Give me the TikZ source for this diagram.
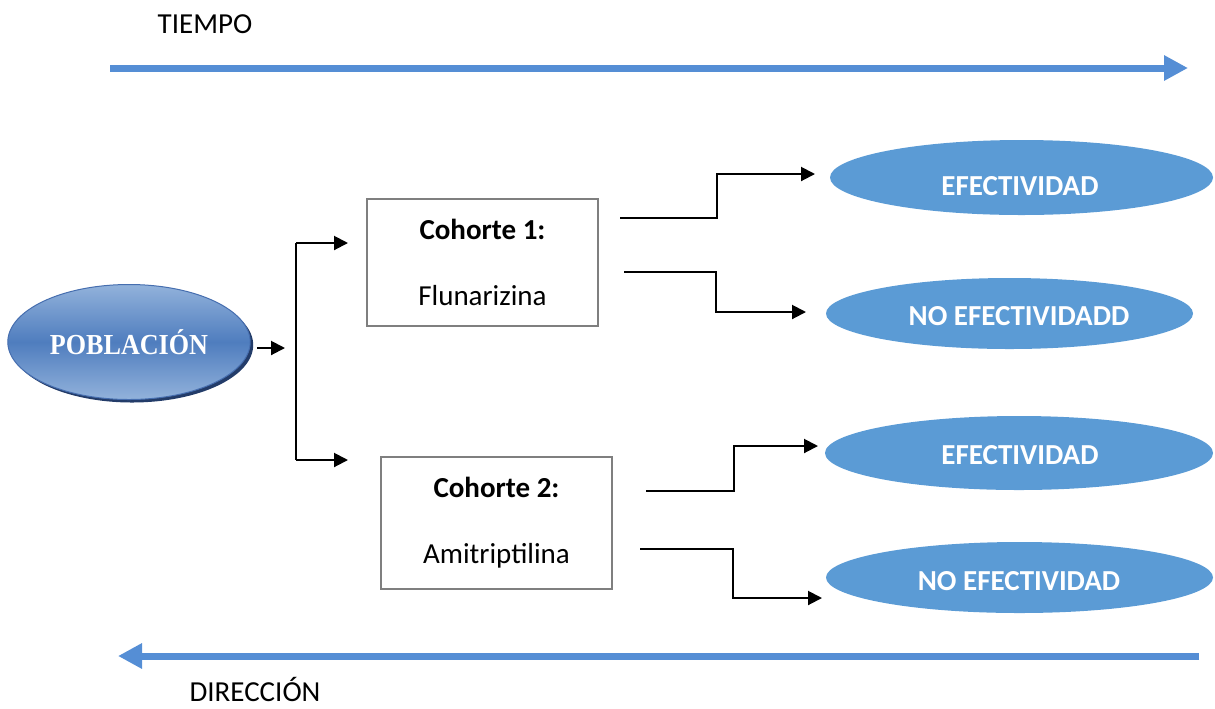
\documentclass[tikz,border=0pt]{standalone}
\usepackage{graphicx}
\usepackage{fontspec}
\setmainfont{Carlito}
\newfontfamily\pobfont{Liberation Serif}
\usetikzlibrary{arrows.meta,shapes.geometric,shadows}
\definecolor{tiempo}{RGB}{85,142,213}
\definecolor{elip}{RGB}{91,155,213}
\definecolor{caja}{RGB}{127,127,127}
\definecolor{pobclaro}{RGB}{146,178,219}
\definecolor{pobosc}{RGB}{79,125,190}
\definecolor{pobborde}{RGB}{70,110,175}
\definecolor{pobsombra}{RGB}{35,60,105}

\tikzset{
  conn/.style={-{Triangle[length=7pt,width=7pt]},line width=1pt},
  eje/.style={-{Triangle[length=12pt,width=12pt]},line width=3.5pt,color=tiempo},
  cohorte/.style={draw=caja,line width=1pt,minimum width=115.5pt,align=center,
    font=\fontsize{14.5}{17.4}\selectfont},
  resultado/.style={ellipse,fill=elip,inner sep=0pt},
  etiq/.style={text=white,font=\fontsize{14.5}{17.4}\selectfont\bfseries},
  rotulo/.style={font=\fontsize{14.5}{17.4}\selectfont},
}

\begin{document}
\begin{tikzpicture}[line cap=butt,line join=miter,x=0.5pt,y=-0.5pt]
\useasboundingbox (0,0) rectangle (1215,708);

% ejes de tiempo y direccion
\node[rotulo] (tiempo) at (205,24) {TIEMPO};
\coordinate (t0) at (110,68);
\coordinate (t1) at (1188,68);
\draw[eje] (t0) -- (t1);
\coordinate (d0) at (1199,656);
\coordinate (d1) at (118,656);
\draw[eje] (d0) -- (d1);
\node[rotulo] (direccion) at (255,689) {DIRECCIÓN};

% poblacion
\node[ellipse,draw=pobborde,line width=0.5pt,minimum width=117.5pt,minimum height=57.5pt,
  top color=pobclaro,bottom color=pobclaro,middle color=pobosc,
  drop shadow={shadow xshift=1.5pt,shadow yshift=-1.5pt,fill=pobsombra,opacity=1},
  text=white,font=\pobfont\bfseries\fontsize{14.5}{17}\selectfont] (pob) at (129,342)
  {\scalebox{0.9}[1]{POBLACIÓN}};
\coordinate (rama) at (296,348);
\coordinate (arriba) at (296,243);
\coordinate (abajo) at (296,460);
\draw[conn] (257,348) -- (285,348);
\draw[line width=1pt] (arriba) -- (abajo);
\draw[conn] (arriba) -- ++(52,0);
\draw[conn] (abajo) -- ++(52,0);

% cohortes
\node[cohorte,minimum height=63.5pt] (c1) at (482.5,262.5)
  {\textbf{Cohorte 1:}\\[15.6pt]Flunarizina};
\node[cohorte,minimum height=66pt] (c2) at (496.5,523)
  {\textbf{Cohorte 2:}\\[15.6pt]Amitriptilina};

% resultados
\node[resultado,minimum width=191.5pt,minimum height=37.5pt] (e1) at (1021.5,177.5) {};
\node[etiq] (t1) at (1020,186) {EFECTIVIDAD};
\node[resultado,minimum width=183.5pt,minimum height=35.5pt] (e2) at (1009.5,313.5) {};
\node[etiq] (t2) at (1019,316) {NO EFECTIVIDADD};
\node[resultado,minimum width=194pt,minimum height=37pt] (e3) at (1019,453) {};
\node[etiq] (t3) at (1020,455) {EFECTIVIDAD};
\node[resultado,minimum width=193.5pt,minimum height=35.5pt] (e4) at (1019.5,577.5) {};
\node[etiq] (t4) at (1019,581) {NO EFECTIVIDAD};

% conectores
\coordinate (s1) at (620,218);
\coordinate (f1) at (815,174);
\draw[conn] (s1) -- ++(97,0) |- (f1);
\coordinate (s2) at (624,272);
\coordinate (f2) at (806,312);
\draw[conn] (s2) -- ++(92,0) |- (f2);
\coordinate (s3) at (646,491);
\coordinate (f3) at (818,446);
\draw[conn] (s3) -- ++(88,0) |- (f3);
\coordinate (s4) at (640,549);
\coordinate (f4) at (822,598);
\draw[conn] (s4) -- ++(93,0) |- (f4);
\end{tikzpicture}
\end{document}
